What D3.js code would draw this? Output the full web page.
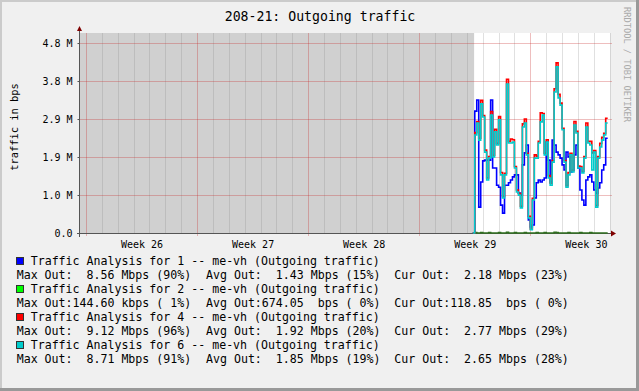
<!DOCTYPE html>
<html>
<head>
<meta charset="utf-8">
<title>208-21: Outgoing traffic</title>
<script src="https://d3js.org/d3.v7.min.js"></script>
<style>
  body { margin: 0; background: #f0f0f0; }
  svg { display: block; font-family: "DejaVu Sans Mono", monospace; }
  text { white-space: pre; }
</style>
</head>
<body>
<div id="chart"></div>
<script>
const title = "208-21: Outgoing traffic";
const yAxisTitle = "traffic in bps";
const credit = "RRDTOOL / TOBI OETIKER";

// y ticks in M (1 M step = 1e6 / 1.048576)
const yTickValues = [0, 0.9537, 1.9073, 2.8610, 3.8147, 4.7684];
const yTickLabels = ["0.0", "1.0 M", "1.9 M", "2.9 M", "3.8 M", "4.8 M"];

const viewStart = new Date(2008, 5, 22, 15, 0);
const viewEnd = new Date(2008, 6, 26, 0, 30);
const unknownEnd = new Date(2008, 6, 17, 11, 0);
const dataStart = new Date(2008, 6, 17, 9, 0);
const stepHours = 3;

const seriesLabels = [
  "Traffic Analysis for 1 -- me-vh (Outgoing traffic)",
  "Traffic Analysis for 2 -- me-vh (Outgoing traffic)",
  "Traffic Analysis for 4 -- me-vh (Outgoing traffic)",
  "Traffic Analysis for 6 -- me-vh (Outgoing traffic)"
];

// values in M, one every 3 hours
const port1 = [0, 3.06, 3.34, 0.65, 1.28, 1.81, 1.83, 1.83, 1.83, 3.34, 1.63, 1.63, 1.20, 1.15, 0.70, 0.50,
  1.20, 1.20, 1.26, 1.33, 1.41, 1.46, 1.46, 1.00, 0.95, 1.71, 2.01, 2.21, 0.33, 0.15, 0.20, 0.88, 1.26,
  1.33, 1.28, 1.33, 1.38, 2.28, 1.83, 1.28, 2.33, 2.21, 2.03, 1.96, 1.88, 1.71, 1.58, 2.03, 1.91, 1.53,
  1.58, 1.96, 2.21, 1.63, 1.08, 0.83, 0.70, 1.33, 1.41, 1.46, 1.28, 1.08, 1.00, 1.13, 1.26, 1.58, 1.71, 2.38];
const port2 = [0, 0.01, 0, 0, 0.01, 0, 0, 0, 0.01, 0, 0, 0, 0, 0.01, 0, 0,
  0, 0.02, 0, 0, 0, 0.01, 0, 0, 0, 0, 0.01, 0, 0, 0, 0, 0, 0.01,
  0, 0, 0, 0.01, 0, 0, 0, 0, 0.02, 0.01, 0, 0, 0, 0, 0, 0.01, 0,
  0, 0, 0, 0, 0.01, 0, 0, 0, 0, 0.01, 0, 0, 0, 0, 0, 0, 0, 0];
const port4 = [0, 2.52, 2.80, 2.38, 3.33, 2.95, 2.08, 1.38, 1.92, 3.05, 1.95, 2.60, 2.25, 2.92, 1.52, 0.92,
  1.50, 3.86, 2.30, 2.36, 2.34, 1.67, 1.08, 0.99, 0.67, 2.74, 2.86, 2.00, 0.42, 0.10, 0.87, 1.96, 1.93,
  2.30, 3.02, 3.00, 2.00, 2.34, 1.44, 1.25, 1.82, 3.62, 4.27, 3.48, 3.26, 2.63, 1.82, 1.19, 1.52, 2.00,
  1.57, 2.80, 2.55, 1.68, 1.67, 1.55, 1.92, 2.76, 2.30, 2.30, 2.01, 2.07, 0.69, 1.92, 2.25, 2.40, 2.50, 2.88];
const port6 = [0, 2.46, 2.76, 2.33, 3.24, 2.91, 2.03, 1.33, 1.88, 2.96, 1.91, 2.54, 2.21, 2.84, 1.46, 0.88,
  1.46, 3.74, 2.26, 2.26, 2.28, 1.63, 1.03, 0.95, 0.63, 2.66, 2.76, 1.96, 0.38, 0.08, 0.83, 1.88, 1.88,
  2.26, 2.79, 2.96, 1.96, 2.28, 1.38, 1.20, 1.78, 3.54, 4.17, 3.39, 3.21, 2.59, 1.78, 1.15, 1.46, 1.96,
  1.53, 2.71, 2.51, 1.63, 1.63, 1.51, 1.88, 2.66, 2.26, 2.21, 1.58, 2.03, 0.65, 1.88, 2.16, 2.33, 2.46, 2.76];

const legendMax = ["Max Out:  8.56 Mbps (90%)", "Max Out:144.60 kbps ( 1%)", "Max Out:  9.12 Mbps (96%)", "Max Out:  8.71 Mbps (91%)"];
const legendAvg = ["Avg Out:  1.43 Mbps (15%)", "Avg Out:674.05  bps ( 0%)", "Avg Out:  1.92 Mbps (20%)", "Avg Out:  1.85 Mbps (19%)"];
const legendCur = ["Cur Out:  2.18 Mbps (23%)", "Cur Out:118.85  bps ( 0%)", "Cur Out:  2.77 Mbps (29%)", "Cur Out:  2.65 Mbps (28%)"];

const colors = ["#0000ff", "#00ff00", "#ff0000", "#00cccc"];
const lineColors = ["#0000ff", "#2f6f1f", "#ff0000", "#00cccc"];

const width = 639, height = 391;
const plotLeft = 80, plotRight = 610, plotTop = 33, plotBottom = 233;

const svg = d3.select("#chart").append("svg")
  .attr("width", width)
  .attr("height", height);

// background and frame
svg.append("rect").attr("width", width).attr("height", height).attr("fill", "#f0f0f0");
svg.append("path").attr("d", "M0,0H639V2H2V391H0Z").attr("fill", "#cbcbcb");
svg.append("path").attr("d", "M639,0V391H0V388H636V0Z").attr("fill", "#999999");

const x = d3.scaleTime().domain([viewStart, viewEnd]).range([plotLeft, plotRight]);
const y = d3.scaleLinear().domain([0, 5.02]).range([plotBottom, plotTop]);

// canvas + unknown area
svg.append("rect").attr("x", plotLeft).attr("y", plotTop)
  .attr("width", plotRight - plotLeft).attr("height", plotBottom - plotTop).attr("fill", "#ffffff");
svg.append("rect").attr("x", plotLeft).attr("y", plotTop)
  .attr("width", x(unknownEnd) - plotLeft).attr("height", plotBottom - plotTop).attr("fill", "#d0d0d0");

// grid
const grid = svg.append("g").attr("shape-rendering", "crispEdges");
const mondays = d3.timeMonday.range(viewStart, viewEnd);
const days = d3.timeDay.range(viewStart, viewEnd).filter(d => d.getDay() !== 1);
grid.selectAll(".minor").data(days).join("line")
  .attr("x1", d => Math.round(x(d)) + 0.5).attr("x2", d => Math.round(x(d)) + 0.5)
  .attr("y1", plotTop).attr("y2", plotBottom)
  .attr("stroke", "rgba(140,140,140,0.27)");
grid.selectAll(".hmajor").data(yTickValues.slice(1)).join("line")
  .attr("x1", plotLeft).attr("x2", plotRight + 2)
  .attr("y1", d => Math.round(y(d)) + 0.5).attr("y2", d => Math.round(y(d)) + 0.5)
  .attr("stroke", "rgba(200,40,40,0.3)");
grid.selectAll(".vmajor").data(mondays).join("line")
  .attr("x1", d => Math.round(x(d)) + 0.5).attr("x2", d => Math.round(x(d)) + 0.5)
  .attr("y1", plotTop).attr("y2", plotBottom + 3)
  .attr("stroke", "rgba(200,40,40,0.3)");

// x axis line (drawn under data)
svg.append("line").attr("x1", plotLeft - 3).attr("x2", plotRight + 2)
  .attr("y1", plotBottom + 0.5).attr("y2", plotBottom + 0.5)
  .attr("stroke", "#555").attr("shape-rendering", "crispEdges");

// data lines
const allSeries = [port1, port2, port4, port6];
const toPoints = vals => {
  const pts = vals.map((v, i) => ({ t: d3.timeHour.offset(dataStart, i * stepHours), v }));
  pts.push({ t: d3.timeHour.offset(dataStart, vals.length * stepHours), v: vals[vals.length - 1] });
  return pts;
};
const line = d3.line()
  .x(d => x(d.t))
  .y(d => y(d.v))
  .curve(d3.curveStepAfter);
allSeries.forEach((vals, i) => {
  svg.append("path")
    .attr("d", line(toPoints(vals)))
    .attr("fill", "none")
    .attr("stroke", lineColors[i])
    .attr("stroke-width", 1.6)
    .attr("stroke-linejoin", "miter");
});

// y axis
const yAxis = d3.axisLeft(y)
  .tickValues(yTickValues)
  .tickFormat((d, i) => yTickLabels[i])
  .tickSize(2)
  .tickPadding(5);
const gy = svg.append("g").attr("transform", `translate(${plotLeft - 0.5},0)`).call(yAxis);
gy.select(".domain").remove();
gy.selectAll(".tick line").attr("stroke", "#555");
gy.selectAll(".tick text").attr("font-family", "DejaVu Sans Mono").attr("font-size", 10)
  .attr("fill", "#000").attr("dy", "0.35em");
svg.append("line").attr("x1", plotLeft - 0.5).attr("x2", plotLeft - 0.5)
  .attr("y1", plotBottom + 4).attr("y2", plotTop - 3)
  .attr("stroke", "#555").attr("shape-rendering", "crispEdges");
svg.append("path").attr("d", `M${plotLeft - 3},${plotTop - 2}L${plotLeft + 2},${plotTop - 2}L${plotLeft - 0.5},${plotTop - 7}Z`)
  .attr("fill", "#7f0000");
svg.append("path").attr("d", `M${plotRight + 1},${plotBottom - 2.5}L${plotRight + 1},${plotBottom + 3.5}L${plotRight + 6},${plotBottom + 0.5}Z`)
  .attr("fill", "#7f0000");

// x axis labels at mid-week
const weekMids = mondays.map(m => d3.timeHour.offset(m, 84)).filter(d => d < viewEnd);
const xAxis = d3.axisBottom(x)
  .tickValues(weekMids)
  .tickFormat(d => "Week " + d3.timeFormat("%V")(d))
  .tickSize(0)
  .tickPadding(8);
const gx = svg.append("g").attr("transform", `translate(0,${plotBottom})`).call(xAxis);
gx.select(".domain").remove();
gx.selectAll(".tick text").attr("font-family", "DejaVu Sans Mono").attr("font-size", 10).attr("fill", "#000");

// titles
svg.append("text").attr("x", 320).attr("y", 21).attr("text-anchor", "middle")
  .attr("font-size", 13.2).text(title);
svg.append("text").attr("transform", "translate(18,127) rotate(-90)")
  .attr("text-anchor", "middle").attr("font-size", 10.4).text(yAxisTitle);
svg.append("text").attr("transform", "translate(624,7) rotate(90)")
  .attr("font-size", 8.7).attr("fill", "#aaaaaa").text(credit);

// legend
const legend = svg.append("g");
seriesLabels.forEach((label, i) => {
  const base = 265 + i * 28;
  legend.append("rect").attr("x", 16.5).attr("y", base - 7.5).attr("width", 7).attr("height", 7)
    .attr("fill", colors[i]).attr("stroke", "#333").attr("stroke-width", 1);
  legend.append("text").attr("x", 30.7).attr("y", base).attr("font-size", 11.6)
    .attr("xml:space", "preserve").text(label);
  [[16.7, legendMax], [206, legendAvg], [394.3, legendCur]].forEach(([lx, arr]) => {
    legend.append("text").attr("x", lx).attr("y", base + 14).attr("font-size", 11.6)
      .attr("xml:space", "preserve").text(arr[i]);
  });
});
</script>
</body>
</html>
